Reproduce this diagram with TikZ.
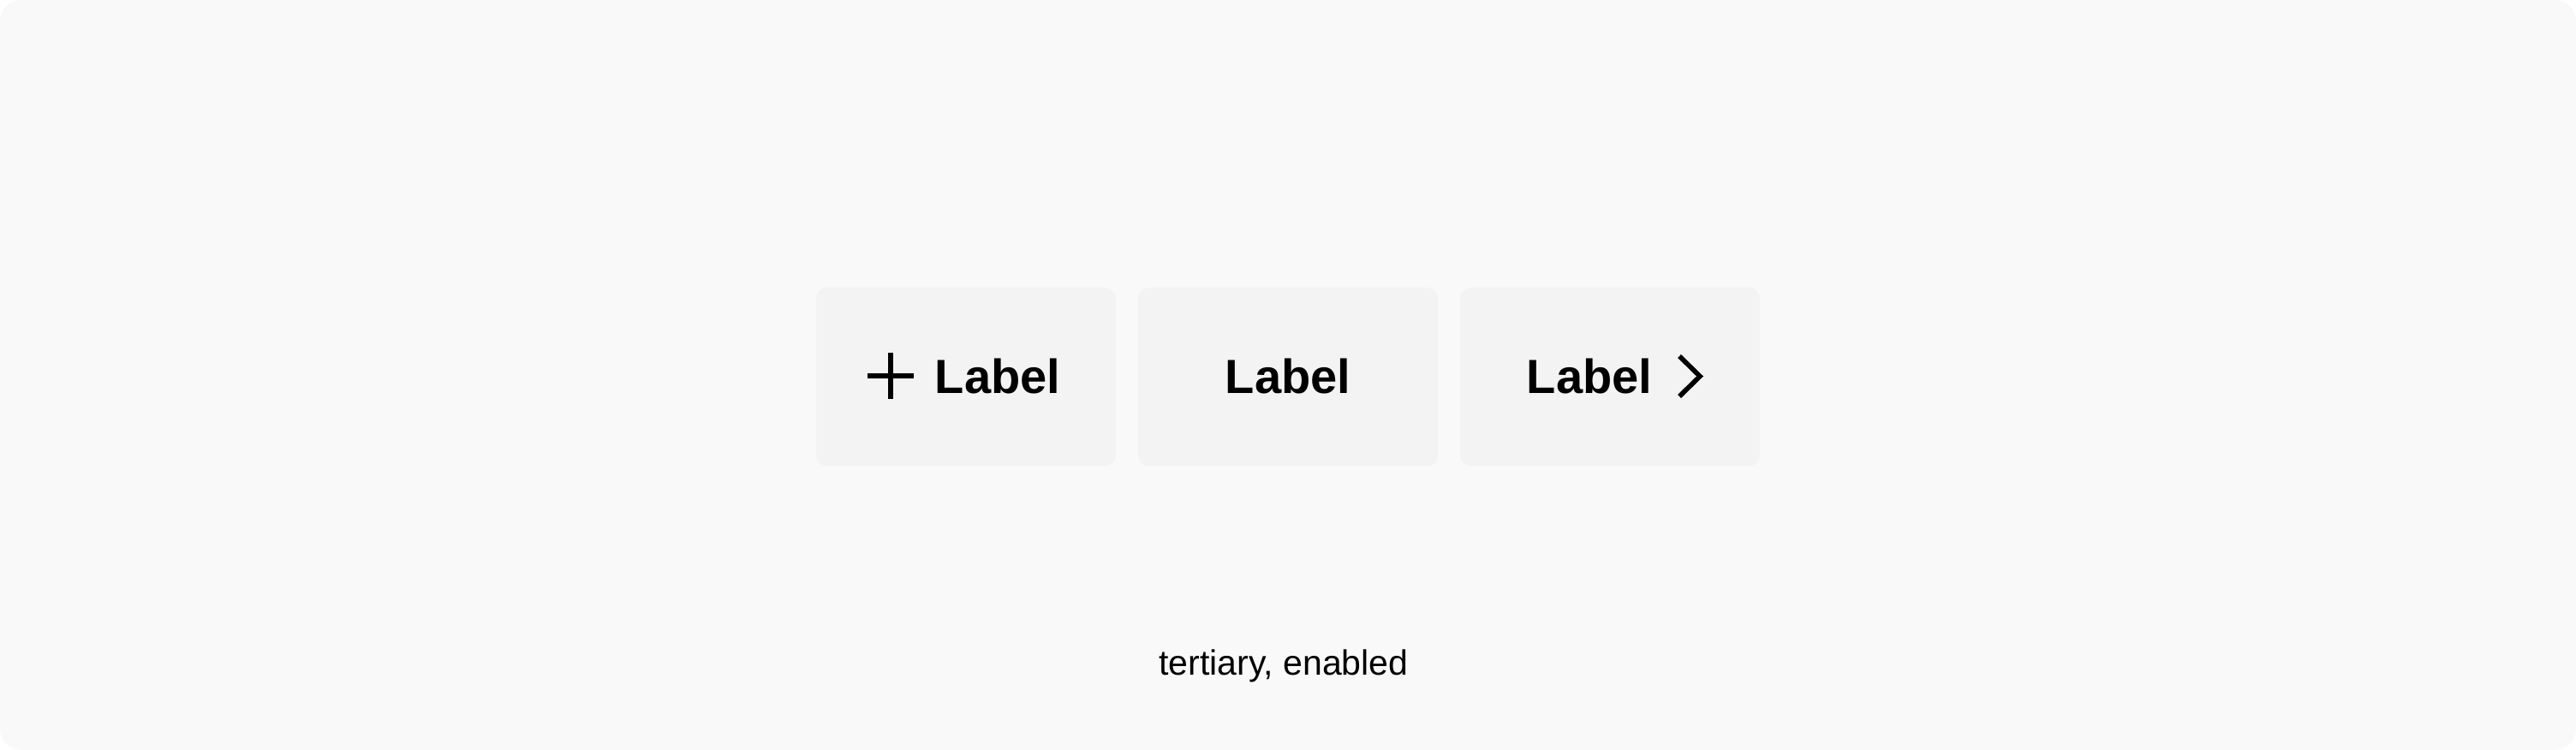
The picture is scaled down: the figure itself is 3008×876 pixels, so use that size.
\documentclass[tikz,border=0pt]{standalone}
\usepackage{fontspec}
\setmainfont{Liberation Sans}
\definecolor{pagebg}{HTML}{F9F9F9}
\definecolor{btnbg}{HTML}{F3F3F3}
\definecolor{ink}{HTML}{000000}
\begin{document}
\begin{tikzpicture}[x=0.5pt,y=-0.5pt,
  btn/.style={fill=btnbg,draw=none,rounded corners=6pt},
  btnlabel/.style={anchor=base,inner sep=0pt,text=ink,font=\fontsize{28}{30}\selectfont\bfseries},
  caption/.style={anchor=base,inner sep=0pt,text=ink,font=\fontsize{20.5}{24}\selectfont},
  iconline/.style={draw=ink,line width=2.8pt}]
\useasboundingbox (0,0) rectangle (3008,876);
\fill[white] (0,0) rectangle (3008,876);
\fill[pagebg,rounded corners=12.5pt] (0,0) rectangle (3008,876);
% buttons
\path[btn] (953,336) rectangle (1303,544) coordinate (b1se);
\path[btn] (1329,336) rectangle (1679,544) coordinate (b2se);
\path[btn] (1705,336) rectangle (2055,544) coordinate (b3se);
% labels
\node[btnlabel] (l1) at (1165,460) {Label};
\node[btnlabel] (l2) at (1504,460) {Label};
\node[btnlabel] (l3) at (1856,460) {Label};
% plus icon
\coordinate (pc) at (1040,439);
\draw[iconline] ([yshift=13.5pt]pc) -- ([yshift=-13.5pt]pc);
\draw[iconline] ([xshift=-13.5pt]pc) -- ([xshift=13.5pt]pc);
% chevron icon
\draw[iconline,line join=miter] (1961,416) -- (1985,439.5) -- (1961,463);
% caption
\node[caption] (cap) at (1499,788) {tertiary, enabled};
\end{tikzpicture}
\end{document}
